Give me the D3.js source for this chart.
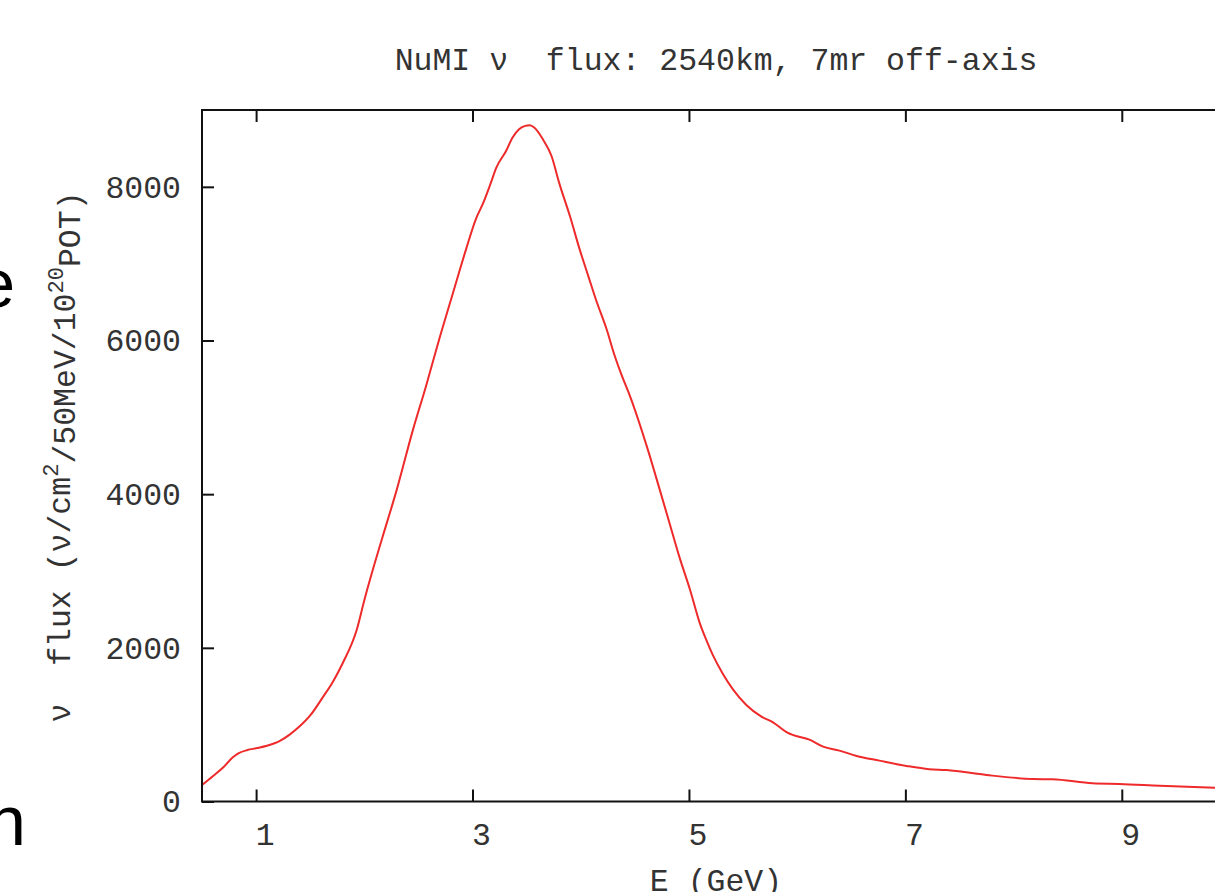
<!DOCTYPE html>
<html>
<head>
<meta charset="utf-8">
<script src="https://cdn.jsdelivr.net/npm/d3@7"></script>
<style>
  html, body { margin: 0; padding: 0; background: #fff; overflow: hidden; }
  svg { display: block; }
  text { font-family: "Liberation Mono", "Courier New", monospace; fill: #333; }
</style>
</head>
<body>
<svg id="chart" width="1215" height="892"></svg>
<script>
// ---- data ----
const energyGeV = [0.50, 0.60, 0.70, 0.78, 0.84, 0.92, 1.00, 1.10, 1.22, 1.31, 1.40, 1.50, 1.62, 1.71, 1.80, 1.93, 2.00, 2.10, 2.17, 2.30, 2.45, 2.57, 2.70, 2.82, 2.94, 3.03, 3.10, 3.17, 3.22, 3.31, 3.37, 3.43, 3.48, 3.53, 3.57, 3.65, 3.73, 3.80, 3.90, 3.99, 4.07, 4.14, 4.24, 4.31, 4.37, 4.45, 4.62, 4.73, 4.82, 4.91, 5.01, 5.10, 5.16, 5.22, 5.31, 5.41, 5.53, 5.67, 5.78, 5.91, 6.12, 6.24, 6.39, 6.55, 6.76, 7.01, 7.22, 7.38, 7.75, 8.18, 8.36, 8.73, 8.98, 9.35, 9.86, 10.0];
const fluxValues = [215, 330, 450, 570, 630, 670, 693, 725, 788, 870, 975, 1120, 1365, 1560, 1800, 2235, 2620, 3120, 3450, 4059, 4840, 5405, 6056, 6622, 7186, 7577, 7794, 8055, 8250, 8466, 8641, 8749, 8790, 8801, 8771, 8619, 8401, 8055, 7620, 7186, 6838, 6534, 6143, 5818, 5579, 5296, 4580, 4059, 3625, 3190, 2756, 2322, 2104, 1909, 1670, 1453, 1257, 1105, 1027, 896, 801, 714, 662, 593, 532, 463, 420, 410, 345, 293, 289, 237, 228, 206, 180, 172];
const xTickValues = [1, 3, 5, 7, 9];
const yTickValues = [0, 2000, 4000, 6000, 8000];
const xDomain = [0.5, 10];
const yDomain = [0, 9000];
const titleText = "NuMI \u03bd  flux: 2540km, 7mr off-axis";
const xLabelText = "E (GeV)";

// ---- layout ----
const svg = d3.select("#chart");
const pLeft = 202, pRight = 1230, pTop = 110, pBottom = 801.5;
const x = d3.scaleLinear().domain(xDomain).range([pLeft, pRight]);
const y = d3.scaleLinear().domain(yDomain).range([pBottom, pTop]);
const fs = 31.5;
const tickLen = 12;

// stray slide letters on the left edge
svg.append("text").attr("x", 15).attr("y", 307).attr("text-anchor", "end")
  .style("font-family", "'Liberation Sans', Arial, sans-serif").style("font-size", "68px").style("fill", "#000").text("e");
svg.append("text").attr("x", 26).attr("y", 845).attr("text-anchor", "end")
  .style("font-family", "'Liberation Sans', Arial, sans-serif").style("font-size", "70px").style("fill", "#000").text("n");

// curve (clipped to plot)
svg.append("clipPath").attr("id", "clip").append("rect")
  .attr("x", pLeft).attr("y", pTop).attr("width", pRight - pLeft).attr("height", pBottom - pTop);
const pts = energyGeV.map((e, i) => [e, fluxValues[i]]);
svg.append("path").datum(pts)
  .attr("clip-path", "url(#clip)")
  .attr("fill", "none").attr("stroke", "#ee2a2a").attr("stroke-width", 2)
  .attr("stroke-linejoin", "round")
  .attr("d", d3.line().x(d => x(d[0])).y(d => y(d[1])).curve(d3.curveMonotoneX));

// axes with inward ticks
const axB = svg.append("g").attr("transform", `translate(0,${pBottom})`)
  .call(d3.axisBottom(x).tickValues(xTickValues).tickSizeInner(-tickLen).tickSizeOuter(0).tickFormat(""));
const axT = svg.append("g").attr("transform", `translate(0,${pTop})`)
  .call(d3.axisTop(x).tickValues(xTickValues).tickSizeInner(-tickLen).tickSizeOuter(0).tickFormat(""));
const axL = svg.append("g").attr("transform", `translate(${pLeft},0)`)
  .call(d3.axisLeft(y).tickValues(yTickValues).tickSizeInner(-tickLen).tickSizeOuter(0).tickFormat(""));
[axB, axT, axL].forEach(g => {
  g.select(".domain").remove();
  g.selectAll(".tick line").attr("stroke", "#111").attr("stroke-width", 2);
});

// frame
svg.append("rect").attr("x", pLeft).attr("y", pTop).attr("width", pRight - pLeft).attr("height", pBottom - pTop)
  .attr("fill", "none").attr("stroke", "#111").attr("stroke-width", 2);

// tick labels
svg.append("g").selectAll("text").data(xTickValues).join("text")
  .attr("x", d => x(d) + 9).attr("y", 845).attr("text-anchor", "middle")
  .style("font-size", fs + "px").text(d => d);
svg.append("g").selectAll("text").data(yTickValues).join("text")
  .attr("x", 181).attr("y", d => y(d)).attr("dy", "0.34em").attr("text-anchor", "end")
  .style("font-size", fs + "px").text(d => d);

// title
svg.append("text").attr("x", 716).attr("y", 70).attr("text-anchor", "middle")
  .style("font-size", fs + "px").style("white-space", "pre").attr("xml:space", "preserve").text(titleText);

// x label
svg.append("text").attr("x", 716).attr("y", 891).attr("text-anchor", "middle")
  .style("font-size", fs + "px").text(xLabelText);

// y label with superscripts
const yl = svg.append("text").attr("transform", "translate(70,457) rotate(-90)")
  .attr("text-anchor", "middle").attr("xml:space", "preserve").style("white-space", "pre")
  .style("font-size", fs + "px");
yl.append("tspan").text("\u03bd  flux (\u03bd/cm");
yl.append("tspan").attr("dy", "-0.55em").style("font-size", "22px").text("2");
yl.append("tspan").attr("dy", "0.55em").text("/50MeV/10");
yl.append("tspan").attr("dy", "-0.55em").style("font-size", "22px").text("20");
yl.append("tspan").attr("dy", "0.55em").text("POT)");
</script>
</body>
</html>
